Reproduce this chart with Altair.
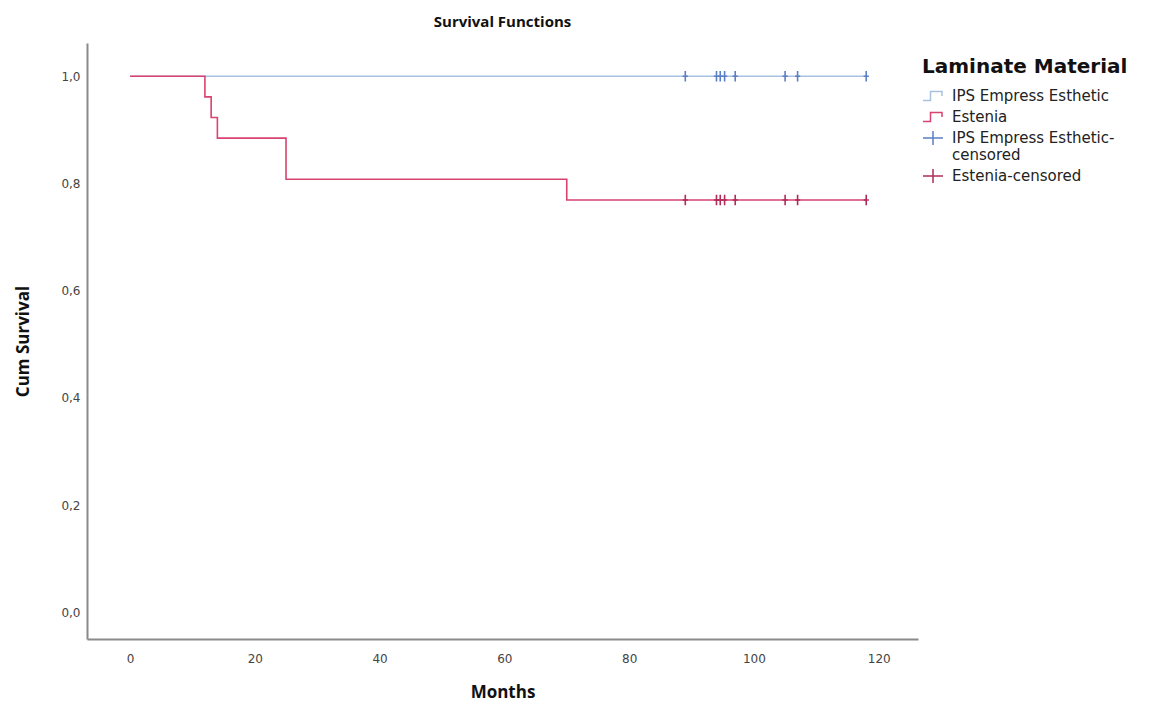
import altair as alt
import pandas as pd

# ---- data ----
group_names = ["IPS Empress Esthetic", "Estenia"]
censored_names = ["IPS Empress Esthetic-censored", "Estenia-censored"]

ips_times = [0, 118]
ips_surv = [1.0, 1.0]

est_times = [0, 12, 13, 14, 25, 70, 118]
est_surv = [1.0, 0.9615, 0.9231, 0.8846, 0.8077, 0.7692, 0.7692]

ips_cens_times = [89, 94, 94.6, 95.3, 97, 105, 107, 118]
ips_cens_surv = [1.0] * len(ips_cens_times)
est_cens_times = [89, 94, 94.6, 95.3, 97, 105, 107, 118]
est_cens_surv = [0.7692] * len(est_cens_times)

x_ticks = [0, 20, 40, 60, 80, 100, 120]
y_ticks = [0.0, 0.2, 0.4, 0.6, 0.8, 1.0]

line_colors = ["#a9c1e0", "#d8436f"]
cens_colors = ["#5b7fc4", "#b02c58"]

# ---- tables ----
lines = pd.concat([
    pd.DataFrame({"time": ips_times, "surv": ips_surv, "group": group_names[0]}),
    pd.DataFrame({"time": est_times, "surv": est_surv, "group": group_names[1]}),
])
cens = pd.concat([
    pd.DataFrame({"time": ips_cens_times, "surv": ips_cens_surv, "cgroup": censored_names[0]}),
    pd.DataFrame({"time": est_cens_times, "surv": est_cens_surv, "cgroup": censored_names[1]}),
])

FONT = "Open Sans"
LFONT = "DejaVu Sans"

step_path = "M-1,0.45H-0.25V-0.45H0.9V0"
cross_path = "M-1,0H1M0,-0.7V0.7"

legend_common = dict(
    orient="none",
    labelFont=LFONT,
    labelFontSize=15,
    labelColor="#222",
    labelLimit=400,
    labelOffset=8,
    rowPadding=2,
    symbolSize=400,
    symbolStrokeWidth=1.5,
    symbolFillColor="transparent",
)

stroke = alt.Stroke(
    "group:N",
    scale=alt.Scale(domain=group_names, range=line_colors),
    legend=alt.Legend(
        title="Laminate Material",
        legendX=835,
        legendY=14,
        titleFont=LFONT,
        titleFontSize=20,
        titleFontWeight="bold",
        titleColor="#111",
        titleAnchor="start",
        titleLimit=400,
        titlePadding=8,
        symbolType=step_path,
        **legend_common,
    ),
)
ccolor = alt.Color(
    "cgroup:N",
    scale=alt.Scale(domain=censored_names, range=cens_colors),
    legend=alt.Legend(
        title=None,
        legendX=835,
        legendY=84,
        symbolType=cross_path,
        labelExpr="datum.label == 'IPS Empress Esthetic-censored' ? ['IPS Empress Esthetic-', 'censored'] : datum.label",
        **legend_common,
    ),
)

x = alt.X(
    "time:Q",
    title="Months",
    scale=alt.Scale(domain=[-6.9, 126.3], nice=False, zero=False),
    axis=alt.Axis(values=x_ticks, ticks=False, grid=False, labelPadding=14,
                  titlePadding=20),
)
y = alt.Y(
    "surv:Q",
    title="Cum Survival",
    scale=alt.Scale(domain=[-0.05, 1.062], nice=False, zero=False),
    axis=alt.Axis(values=y_ticks, ticks=False, grid=False, labelPadding=7,
                  titlePadding=28,
                  labelExpr="replace(format(datum.value, '.1f'), '.', ',')"),
)

line_layer = alt.Chart(lines).mark_line(interpolate="step-after", strokeWidth=1.6).encode(
    x=x, y=y, stroke=stroke
)
cens_layer = alt.Chart(cens).mark_point(
    shape="M0,-1V1M-0.5,0H0.5", filled=False, size=110, strokeWidth=1.6, opacity=1
).encode(x=x, y=y, color=ccolor)

chart = (
    alt.layer(line_layer, cens_layer)
    .resolve_scale(color="independent", stroke="independent")
    .properties(
        width=831,
        height=596,
        background="white",
        title=alt.TitleParams("Survival Functions", font=FONT, fontSize=15,
                              fontWeight="bold", color="#111", anchor="middle", offset=13),
        autosize=alt.AutoSizeParams(type="none"),
        padding={"left": 79, "top": 35, "right": 238, "bottom": 63},
    )
    .configure_view(strokeWidth=0)
    .configure_axis(
        domainColor="#8a8a8a",
        domainWidth=2,
        labelFont=LFONT,
        labelFontSize=12,
        labelColor="#444",
        titleFont=FONT,
        titleFontSize=17,
        titleFontWeight="bold",
        titleColor="#111",
    )
)

chart.save("out.html", embed_options={"renderer": "svg", "actions": False})
